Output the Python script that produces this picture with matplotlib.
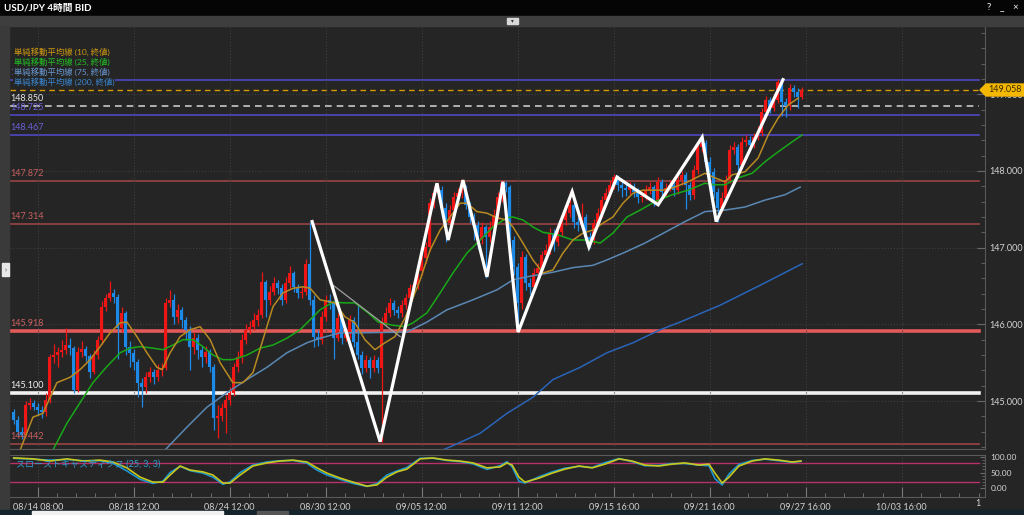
import numpy as np
import matplotlib
matplotlib.use('Agg')
import matplotlib.pyplot as plt
from matplotlib.patches import Rectangle, Polygon

plt.rcParams['font.family'] = ['Lato', 'Noto Sans CJK JP', 'DejaVu Sans']

# --- 4h candles (index 0 = first candle on screen) ---
first_open = 144.86
closes = [
    144.75, 144.60, 144.56, 144.95, 144.97, 144.92, 144.88, 144.86, 145.02, 145.57,
    145.60, 145.64, 145.67, 145.73, 145.69, 145.15, 145.64, 145.68, 145.59, 145.38,
    145.60, 145.80, 146.23, 146.34, 146.41, 146.36, 145.95, 146.15, 145.71, 145.63,
    145.51, 145.24, 145.18, 145.31, 145.38, 145.31, 145.41, 145.43, 146.28, 146.32,
    146.10, 146.19, 146.06, 145.93, 145.71, 145.82, 145.67, 145.57, 145.64, 145.44,
    144.78, 144.81, 144.91, 145.01, 145.11, 145.44, 145.57, 145.80, 145.93, 145.97,
    146.06, 146.12, 146.55, 146.32, 146.42, 146.54, 146.47, 146.32, 146.54, 146.67,
    146.49, 146.41, 146.42, 146.79, 146.32, 145.84, 145.80, 146.10, 146.32, 146.28,
    145.82, 146.08, 145.82, 145.88, 146.06, 145.77, 145.60, 145.43, 145.54, 145.43,
    145.54, 145.43, 146.02, 146.15, 146.28, 146.19, 146.15, 146.25, 146.34, 146.47,
    146.51, 146.70, 146.86, 147.01, 147.58, 147.71, 147.75, 147.52, 147.32, 147.49,
    147.66, 147.71, 147.79, 147.56, 147.40, 147.30, 147.10, 147.27, 147.14, 147.27,
    147.43, 147.66, 147.84, 147.79, 147.10, 146.75, 146.28, 146.88, 146.54, 146.49,
    146.67, 146.73, 146.90, 146.97, 147.19, 147.07, 147.20, 147.36, 147.45, 147.56,
    147.34, 147.30, 147.40, 147.14, 147.10, 147.32, 147.45, 147.62, 147.71, 147.82,
    147.92, 147.82, 147.78, 147.75, 147.79, 147.73, 147.66, 147.67, 147.75, 147.79,
    147.60, 147.86, 147.73, 147.78, 147.82, 147.75, 147.88, 147.95, 147.82, 147.69,
    148.01, 148.31, 148.37, 148.12, 147.99, 147.73, 147.52, 147.65, 147.88, 148.27,
    148.31, 148.08, 148.38, 148.40, 148.34, 148.44, 148.50, 148.77, 148.93, 148.82,
    148.93, 149.16, 148.90, 148.85, 149.08, 149.03, 148.96, 149.06,
]
highs = [
    144.90, 144.80, 144.66, 145.00, 145.04, 145.02, 144.98, 144.93, 145.10, 145.62,
    145.75, 145.70, 145.80, 145.95, 145.82, 145.72, 145.70, 145.78, 145.72, 145.62,
    145.66, 145.85, 146.30, 146.40, 146.56, 146.46, 146.40, 146.22, 146.18, 145.78,
    145.68, 145.55, 145.30, 145.38, 145.45, 145.42, 145.48, 145.50, 146.35, 146.45,
    146.40, 146.26, 146.22, 146.10, 145.98, 145.90, 145.88, 145.72, 145.72, 145.68,
    145.48, 144.95, 144.98, 145.08, 145.18, 145.50, 145.65, 145.88, 146.00, 146.05,
    146.15, 146.20, 146.68, 146.58, 146.50, 146.62, 146.58, 146.52, 146.62, 146.76,
    146.70, 146.53, 146.50, 146.85, 147.33, 146.38, 145.92, 146.18, 146.38, 146.40,
    146.32, 146.15, 146.12, 145.95, 146.12, 146.10, 146.25, 145.65, 145.60, 145.58,
    145.60, 145.58, 146.10, 146.22, 146.35, 146.32, 146.24, 146.32, 146.40, 146.52,
    146.58, 146.76, 146.92, 147.08, 147.65, 147.80, 147.84, 147.80, 147.58, 147.55,
    147.72, 147.78, 147.89, 147.82, 147.60, 147.45, 147.35, 147.33, 147.30, 147.35,
    147.50, 147.72, 147.88, 147.87, 147.82, 147.15, 146.80, 146.95, 146.92, 146.60,
    146.74, 146.80, 146.96, 147.05, 147.26, 147.24, 147.28, 147.42, 147.52, 147.74,
    147.60, 147.40, 147.58, 147.44, 147.20, 147.38, 147.52, 147.68, 147.78, 147.88,
    147.96, 147.95, 147.88, 147.84, 147.85, 147.84, 147.78, 147.74, 147.82, 147.85,
    147.82, 147.92, 147.90, 147.84, 147.88, 147.86, 147.94, 148.00, 147.98, 147.86,
    148.08, 148.38, 148.45, 148.40, 148.18, 148.04, 147.78, 147.72, 147.95, 148.34,
    148.38, 148.35, 148.44, 148.47, 148.45, 148.50, 148.58, 148.82, 148.98, 148.96,
    149.00, 149.20, 149.19, 148.95, 149.14, 149.12, 149.08, 149.10,
]
lows = [
    144.70, 144.55, 144.50, 144.54, 144.90, 144.88, 144.82, 144.78, 144.80, 144.98,
    145.50, 145.45, 145.58, 145.62, 145.60, 145.10, 145.12, 145.58, 145.52, 145.30,
    145.35, 145.55, 145.75, 146.18, 146.30, 146.28, 145.55, 145.90, 145.60, 145.45,
    145.40, 145.05, 144.92, 145.10, 145.25, 145.22, 145.26, 145.33, 145.40, 146.22,
    146.00, 146.02, 145.95, 145.80, 145.40, 145.62, 145.55, 145.45, 145.50, 145.38,
    144.62, 144.52, 144.74, 144.58, 144.95, 145.06, 145.38, 145.50, 145.75, 145.88,
    145.92, 145.98, 146.08, 146.10, 146.25, 146.38, 146.40, 146.25, 146.28, 146.48,
    146.42, 146.35, 146.34, 146.38, 146.25, 145.70, 145.72, 145.75, 146.05, 146.20,
    145.55, 145.78, 145.75, 145.78, 145.82, 145.70, 145.55, 145.35, 145.38, 145.30,
    145.38, 145.36, 144.47, 145.98, 146.10, 146.12, 146.08, 146.10, 146.20, 146.30,
    146.42, 146.46, 146.65, 146.80, 146.96, 147.52, 147.65, 147.40, 147.08, 147.25,
    147.42, 147.60, 147.65, 147.50, 147.32, 147.10, 146.98, 147.05, 146.60, 147.08,
    147.20, 147.38, 147.60, 147.72, 147.00, 146.65, 145.92, 146.20, 146.45, 146.40,
    146.44, 146.60, 146.68, 146.85, 146.92, 146.95, 147.02, 147.15, 147.30, 147.40,
    147.26, 147.22, 147.25, 147.06, 147.00, 147.05, 147.28, 147.40, 147.56, 147.66,
    147.76, 147.74, 147.66, 147.68, 147.70, 147.66, 147.58, 147.60, 147.62, 147.70,
    147.54, 147.56, 147.66, 147.68, 147.74, 147.68, 147.70, 147.82, 147.50, 147.62,
    147.64, 147.96, 148.25, 148.05, 147.90, 147.65, 147.34, 147.46, 147.60, 147.84,
    148.22, 148.00, 148.04, 148.32, 148.28, 148.30, 148.40, 148.46, 148.72, 148.76,
    148.78, 148.88, 148.72, 148.70, 148.80, 148.96, 148.82, 148.94,
]

# --- moving averages (candle index, price) ---
ma10_idx = [1.6, 4.8, 7.3, 10.8, 14.1, 16.6, 19.1, 21.6, 24.1, 26.6, 28.3, 30.8, 33.3, 35.8, 37.1,
            39.1, 41.6, 44.1, 46.6, 49.1, 51.6, 54.8, 57.3, 59.8, 62.3, 64.8, 67.3, 69.8, 72.3,
            74.1, 76.6, 80.3, 82.8, 85.3, 87.8, 90.3, 92.8, 95.3, 97.8, 101.6, 104.1, 106.6,
            109.1, 111.6, 113.3, 115.8, 118.3, 120.8, 123.3, 124.8, 127.3, 129.8, 132.3, 134.8,
            137.3, 139.8, 142.3, 144.8, 147.3, 149.8, 152.3, 154.8, 157.3, 159.8, 162.3, 164.8,
            168.6, 172.8, 175.3, 177.8, 179.6, 182.8, 186.1, 188.6, 191.1, 193.6, 196.1]
ma10_val = [144.36, 144.79, 144.84, 145.24, 145.31, 145.41, 145.54, 145.71, 145.89, 146.02, 146.03,
            145.84, 145.63, 145.44, 145.41, 145.63, 145.84, 145.93, 145.97, 145.80, 145.50, 145.24,
            145.24, 145.37, 145.80, 146.23, 146.41, 146.47, 146.49, 146.47, 146.32, 146.28, 146.10,
            146.02, 145.80, 145.67, 145.76, 145.84, 146.08, 146.58, 146.97, 147.23, 147.40, 147.58,
            147.58, 147.47, 147.45, 147.39, 147.36, 147.27, 147.06, 146.84, 146.67, 146.71, 146.93,
            147.10, 147.19, 147.23, 147.32, 147.40, 147.58, 147.71, 147.75, 147.75, 147.75, 147.78,
            147.86, 147.97, 147.91, 147.86, 147.95, 147.99, 148.17, 148.47, 148.69, 148.86, 148.95]
ma25_idx = [9.8, 13.3, 16.6, 19.8, 23.3, 26.6, 29.1, 31.6, 34.8, 37.3, 39.8, 42.3, 44.8, 47.3, 49.8,
            52.3, 54.8, 58.3, 61.6, 64.8, 68.3, 71.6, 74.1, 76.6, 79.8, 82.8, 85.3, 88.6, 91.1,
            94.6, 97.8, 99.8, 103.3, 106.6, 109.8, 113.3, 116.6, 119.8, 123.3, 124.8, 127.3,
            129.8, 132.3, 135.8, 139.8, 143.3, 146.6, 149.8, 153.3, 156.6, 160.3, 164.6, 168.6,
            172.8, 175.3, 177.8, 181.1, 184.6, 187.8, 191.1, 194.6, 197.1]
ma25_val = [144.36, 144.71, 144.98, 145.24, 145.45, 145.63, 145.69, 145.71, 145.69, 145.67, 145.73,
            145.80, 145.80, 145.71, 145.60, 145.54, 145.54, 145.60, 145.69, 145.73, 145.82, 145.93,
            146.06, 146.19, 146.29, 146.28, 146.28, 146.15, 146.03, 145.99, 145.97, 146.02, 146.15,
            146.41, 146.67, 146.93, 147.10, 147.27, 147.39, 147.40, 147.36, 147.27, 147.20, 147.17,
            147.10, 147.10, 147.06, 147.19, 147.40, 147.49, 147.60, 147.69, 147.75, 147.84, 147.82,
            147.82, 147.91, 147.97, 148.12, 148.25, 148.38, 148.47]
ma75_idx = [37.8, 43.3, 48.3, 53.3, 58.3, 63.3, 68.3, 73.3, 76.6, 81.6, 86.6, 98.3, 103.3, 108.3,
            114.8, 120.8, 124.8, 128.3, 134.8, 139.8, 144.8, 148.3, 152.8, 157.8, 162.8, 167.8,
            172.8, 177.8, 182.8, 187.8, 192.8, 196.6]
ma75_val = [144.36, 144.66, 144.92, 145.11, 145.28, 145.44, 145.63, 145.76, 145.82, 145.89, 145.89,
            145.90, 146.03, 146.19, 146.32, 146.45, 146.58, 146.62, 146.68, 146.74, 146.77, 146.84,
            146.94, 147.06, 147.20, 147.34, 147.47, 147.49, 147.53, 147.62, 147.69, 147.79]
ma200_idx = [104.1, 109.0, 116.6, 123.3, 129.8, 134.8, 141.6, 148.3, 154.8, 161.6, 166.6, 176.6,
             186.6, 197.1]
ma200_val = [144.30, 144.40, 144.58, 144.84, 145.05, 145.28, 145.44, 145.63, 145.76, 145.93, 146.03,
             146.25, 146.51, 146.79]

# --- hand drawn zigzag and trend line ---
zz_idx = [74.6, 91.6, 105.8, 108.6, 112.3, 118.3, 122.3, 126.1, 139.6, 143.8, 150.8, 161.1, 172.1,
          175.6, 192.3]
zz_val = [147.34, 144.47, 147.84, 147.10, 147.88, 146.62, 147.86, 145.90, 147.73, 147.01, 147.92,
          147.56, 148.44, 147.34, 149.19]
trend_idx = [79.1, 96.6]
trend_val = [146.54, 145.84]

# --- horizontal levels: (price, label, line colour, label colour, width, style) ---
levels = [
    (149.187, '149.187', '#5148c0', '#6a60d8', 1.2, '-'),
    (149.058, None, '#d49a00', None, 1.0, (0, (4, 3))),
    (148.850, '148.850', '#c8c8c8', '#e6e6e6', 1.2, (0, (4, 3))),
    (148.725, '148.725', '#5148c0', '#6a60d8', 1.2, '-'),
    (148.467, '148.467', '#5148c0', '#6a60d8', 1.2, '-'),
    (147.872, '147.872', '#9a4444', '#c86060', 1.2, '-'),
    (147.314, '147.314', '#9a4444', '#c86060', 1.2, '-'),
    (145.918, '145.918', '#e25a5a', '#d06060', 2.6, '-'),
    (145.100, '145.100', '#f2f2f2', '#f0f0f0', 2.6, '-'),
    (144.442, '144.442', '#9a4444', '#c86060', 1.2, '-'),
]

# --- slow stochastics (25, 3, 3) ---
st_idx = [0, 4.8, 9.1, 13.3, 17.3, 21.6, 24.8, 28.3, 31.6, 34.8, 37.3, 39.1, 41.6, 44.1, 47.3, 49.8,
          52.3, 54.1, 56.6, 59.8, 63.3, 66.6, 69.8, 73.3, 75.8, 78.3, 81.6, 84.8, 88.3, 90.8, 93.3,
          95.8, 98.3, 101.6, 104.8, 108.3, 111.6, 114.8, 118.3, 121.6, 123.3, 124.6, 126.3, 127.8,
          131.3, 134.6, 137.8, 141.3, 144.6, 147.8, 151.3, 154.6, 157.8, 161.3, 164.6, 167.8, 171.3,
          173.8, 175.3, 177.1, 178.8, 181.3, 184.6, 187.8, 191.3, 194.6, 196.8]
st_d = [97, 94, 87, 94, 87, 90, 84, 65, 35, 19, 19, 42, 71, 58, 52, 42, 16, 16, 42, 71, 81, 87, 90,
        84, 65, 48, 32, 19, 6, 10, 35, 52, 61, 94, 97, 90, 87, 81, 65, 68, 81, 74, 35, 19, 32, 48, 61,
        71, 65, 77, 94, 87, 74, 71, 77, 81, 74, 77, 48, 16, 35, 71, 87, 94, 90, 84, 87]
st_k = [96, 93, 90, 92, 88, 88, 80, 55, 28, 15, 22, 50, 70, 56, 48, 35, 12, 20, 50, 74, 84, 88, 89,
        80, 58, 42, 28, 15, 5, 14, 42, 55, 66, 96, 96, 89, 85, 78, 60, 72, 85, 68, 22, 16, 36, 52, 64,
        70, 66, 82, 95, 85, 72, 73, 79, 79, 74, 72, 30, 10, 45, 76, 89, 93, 88, 83, 86]

tick_idx = [6, 30, 54, 78, 102, 126, 150, 174, 198, 222]
tick_lbl = ['08/14 08:00', '08/18 12:00', '08/24 12:00', '08/30 12:00', '09/05 12:00',
            '09/11 12:00', '09/15 16:00', '09/21 16:00', '09/27 16:00', '10/03 16:00']

BG = '#252525'
W, H = 1024, 515
fig = plt.figure(figsize=(W / 100, H / 100), dpi=100, facecolor=BG)


def box(x0, y0, x1, y1):
    return [x0 / W, 1 - y1 / H, (x1 - x0) / W, (y1 - y0) / H]


XMIN, XMAX = -0.925, 242.8

# main price panel
ax = fig.add_axes(box(10, 27, 985, 449), facecolor=BG)
ax.set_xlim(XMIN, XMAX)
ax.set_ylim(144.375, 149.877)
for s in ('top', 'left'):
    ax.spines[s].set_visible(False)
ax.spines['right'].set_color('#5a5a5a')
ax.spines['bottom'].set_color('#5a5a5a')
ax.yaxis.tick_right()
ax.set_yticks([145, 146, 147, 148, 149])
ax.set_yticklabels(['145.000', '146.000', '147.000', '148.000', '149.000'])
ax.set_yticks(np.arange(144.4, 149.9, 0.2), minor=True)
ax.tick_params(axis='y', which='both', direction='in', color='#6a6a6a', labelcolor='#d4d4d4',
               labelsize=6.5, pad=3)
ax.tick_params(axis='y', which='major', length=6)
ax.tick_params(axis='y', which='minor', length=3)
ax.set_xticks(tick_idx)
ax.tick_params(axis='x', length=0, labelbottom=False)
ax.grid(True, ls=':', color='#3e3e3e', lw=0.8)

xfrac = (979 - 10) / (985 - 10)
for price, lbl, col, lcol, lw, ls in levels:
    ax.axhline(price, xmin=0, xmax=xfrac, color=col, lw=lw, ls=ls, zorder=1)
    if lbl:
        ax.annotate(lbl, (XMIN, price), xytext=(0.5, 2.2), textcoords='offset points',
                    color=lcol, fontsize=6.5, va='bottom', ha='left', zorder=6)

opens = [first_open] + closes[:-1]
for i, (o, h, l, c) in enumerate(zip(opens, highs, lows, closes)):
    col = '#f01616' if c >= o else '#1e8ae8'
    ax.vlines(i, l, h, color=col, lw=0.9, zorder=2)
    ax.bar(i, max(abs(c - o), 0.012), bottom=min(o, c), width=0.85, color=col, zorder=2,
           linewidth=0)

ax.plot(ma200_idx, ma200_val, color='#2a64b8', lw=1.1, zorder=3)
ax.plot(ma75_idx, ma75_val, color='#5a88b4', lw=1.1, zorder=3)
ax.plot(ma25_idx, ma25_val, color='#18a818', lw=1.1, zorder=3)
ax.plot(ma10_idx, ma10_val, color='#b88a22', lw=1.1, zorder=3)
ax.plot(trend_idx, trend_val, color='#a0a0a0', lw=0.9, zorder=4)
ax.plot(zz_idx, zz_val, color='white', lw=2.3, zorder=5, solid_joinstyle='miter')

# stochastics panel
sx = fig.add_axes(box(10, 455, 985, 497), facecolor=BG)
sx.set_xlim(XMIN, XMAX)
sx.set_ylim(-29, 106.5)
sx.spines['left'].set_visible(False)
for s in ('top', 'right', 'bottom'):
    sx.spines[s].set_color('#5a5a5a')
sx.yaxis.tick_right()
sx.set_yticks([0, 50, 100])
sx.set_yticklabels(['0.00', '50.00', '100.00'])
sx.set_yticks(np.arange(0, 101, 10), minor=True)
sx.tick_params(axis='y', which='both', direction='in', color='#6a6a6a', labelcolor='#d4d4d4',
               labelsize=6, pad=4)
sx.tick_params(axis='y', which='minor', length=2)
sx.set_xticks(tick_idx)
sx.set_xticklabels(tick_lbl)
sx.set_xticks(np.arange(6, XMAX, 4.8), minor=True)
sx.tick_params(axis='x', which='both', direction='in', color='#7a7a7a', labelcolor='#d4d4d4',
               labelsize=6.5, pad=4)
sx.tick_params(axis='x', which='major', length=7)
sx.tick_params(axis='x', which='minor', length=3)
sx.grid(True, axis='x', ls=':', color='#3e3e3e', lw=0.8)
sx.axhline(80, xmax=xfrac, color='#b8306c', lw=1)
sx.axhline(20, xmax=xfrac, color='#b8306c', lw=1)
sx.plot(st_idx, st_k, color='#1c96d2', lw=1.2)
sx.plot(st_idx, st_d, color='#c8c81c', lw=1.2)
sx.text(0.5, 76, 'スローストキャスティクス (25, 3, 3)', color='#2f9fd0', fontsize=6.5,
        va='center')

# window chrome and overlays in pixel space
ov = fig.add_axes([0, 0, 1, 1], facecolor='none')
ov.set_xlim(0, W)
ov.set_ylim(H, 0)
ov.axis('off')
ov.add_patch(Rectangle((0, 0), W, 16, color='#050505'))
ov.text(4, 8, 'USD/JPY 4時間 BID', color='white', fontsize=7, fontweight='bold', va='center')
for xx, ch in ((989, '?'), (1002, '_'), (1015, '×')):
    ov.text(xx, 8, ch, color='white', fontsize=7, va='center', ha='center')
ov.add_patch(Rectangle((0, 16), W, 10, color='#3e3e3e'))
ov.add_patch(Rectangle((507, 18), 11, 6, color='#d8d8d8'))
ov.text(512.5, 21, '▾', color='#333333', fontsize=4, ha='center', va='center')
ov.add_patch(Rectangle((0, 26), 9, 484, color='#3a3a3a'))
ov.add_patch(Rectangle((2, 263), 7, 13, color='#e8e8e8'))
ov.text(5.5, 269.5, '›', color='#333333', fontsize=5, ha='center', va='center')
ov.add_patch(Rectangle((0, 510), W, 5, color='#15232b'))
ov.add_patch(Rectangle((32, 511), 191, 4, color='#f0f0f0'))
ov.add_patch(Rectangle((257, 511), 31, 4, color='#555555'))

legend = [('単純移動平均線 (10, 終値)', '#d09a10'), ('単純移動平均線 (25, 終値)', '#22c022'),
          ('単純移動平均線 (75, 終値)', '#6a9ad4'), ('単純移動平均線 (200, 終値)', '#3a88d4')]
for k, (t, c) in enumerate(legend):
    ov.text(14, 52 + 10 * k, t, color=c, fontsize=6, va='center',
            bbox=dict(facecolor=BG, edgecolor='none', pad=0.6))

ov.add_patch(Polygon([(980, 90), (986, 84), (1024, 84), (1024, 96), (986, 96)], closed=True,
                     color='#f5b800'))
ov.text(1005, 90, '149.058', color='#3a2a00', fontsize=6.5, ha='center', va='center')
ov.text(977.5, 503, '1', color='#d4d4d4', fontsize=6.5, ha='center', va='center')

fig.savefig('out.png', dpi=100, facecolor=BG)
